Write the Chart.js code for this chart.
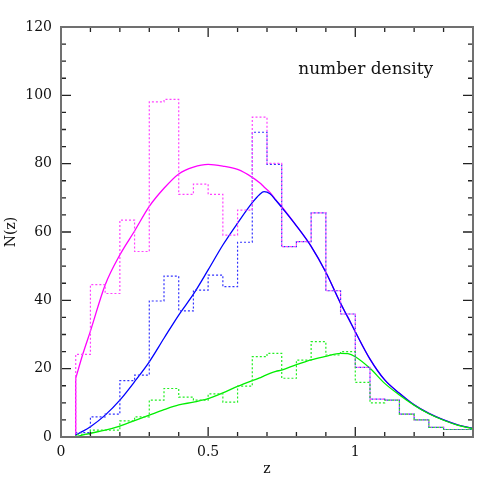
<!DOCTYPE html>
<html>
<head>
<meta charset="utf-8">
<script src="https://cdn.jsdelivr.net/npm/chart.js@4.4.1/dist/chart.umd.min.js"></script>
<style>
  body { margin: 0; background: #fff; }
  #wrap { width: 498px; height: 498px; }
</style>
</head>
<body>
<div id="wrap"><canvas id="nzChart" width="498" height="498"></canvas></div>
<script>
// histogram bin edges (z)
var binEdges = [0.05, 0.1, 0.15, 0.2, 0.25, 0.3, 0.35, 0.4, 0.45, 0.5, 0.55, 0.6, 0.65, 0.7,
    0.75, 0.8, 0.85, 0.9, 0.95, 1.0, 1.05, 1.1, 1.15, 1.2, 1.25, 1.3, 1.35, 1.4];

// dotted histograms, one value per bin
var histTotal = [24.2, 44.6, 42.0, 63.5, 54.3, 98.1, 98.8, 71.0, 74.0, 71.0, 59.1, 66.4, 93.6, 80.1,
    55.7, 57.2, 65.6, 42.8, 36.0, 20.4, 11.1, 10.8, 6.7, 5.0, 2.8, 2.2, 2.2];
var histBlue = [1.3, 5.9, 6.7, 16.5, 18.1, 39.8, 47.1, 36.9, 43.0, 47.4, 44.0, 57.0, 89.2, 79.8,
    55.7, 57.2, 65.6, 42.8, 36.0, 20.4, 11.1, 10.8, 6.7, 5.0, 2.8, 2.2, 2.2];
var histGreen = [0.8, 2.0, 2.0, 4.7, 5.9, 10.8, 14.2, 11.7, 10.8, 12.6, 10.2, 14.9, 23.5, 24.5,
    17.2, 22.5, 27.9, 24.0, 25.0, 16.0, 10.0, 10.8, 6.7, 5.0, 2.8, 2.2, 2.2];

// smooth model curves
var curveZ = [0.05, 0.075, 0.1, 0.15, 0.2, 0.25, 0.3, 0.35, 0.4, 0.45, 0.5, 0.55, 0.6, 0.65, 0.675,
    0.69, 0.71, 0.73, 0.75, 0.8, 0.85, 0.9, 0.95, 0.975, 1.0, 1.05, 1.1, 1.15, 1.2, 1.25, 1.3, 1.35, 1.4];
var curveTotal = [17.2, 24.5, 31.0, 44.5, 53.3, 60.3, 67.5, 72.8, 77.0, 79.0, 79.8, 79.3, 78.3, 76.0, 74.4,
    73.2, 71.6, 69.4, 67.4, 61.8, 55.8, 48.2, 39.1, 35.0, 30.8, 22.8, 16.7, 12.8, 9.4, 6.9, 5.0, 3.5, 2.5];
var curveBlue = [0.6, 1.7, 3.0, 6.4, 10.8, 16.2, 22.0, 28.9, 35.7, 41.8, 48.9, 56.2, 62.6, 68.6, 71.0,
    71.8, 71.2, 69.3, 67.2, 61.8, 55.8, 48.2, 39.1, 35.0, 30.8, 22.8, 16.7, 12.8, 9.4, 6.9, 5.0, 3.5, 2.5];
var curveGreen = [0.1, 0.6, 1.1, 2.0, 3.2, 4.8, 6.4, 8.0, 9.4, 10.2, 11.2, 12.9, 14.8, 16.5, 17.3,
    17.9, 18.6, 19.2, 19.6, 21.2, 22.6, 23.6, 24.5, 24.4, 23.5, 20.1, 15.7, 12.3, 9.3, 6.8, 4.9, 3.4, 2.4];

var xTicks = [0, 0.5, 1];
var yTicks = [0, 20, 40, 60, 80, 100, 120];

var fontFace = "'DejaVu Serif', 'Liberation Serif', serif";

function histPoints(values) {
    var pts = [{x: binEdges[0], y: 0}];
    for (var i = 0; i < values.length; i++) {
        pts.push({x: binEdges[i], y: values[i]});
    }
    pts.push({x: binEdges[binEdges.length - 1], y: values[values.length - 1]});
    return pts;
}

function curvePoints(values) {
    var pts = [];
    for (var i = 0; i < values.length; i++) {
        pts.push({x: curveZ[i], y: values[i]});
    }
    return pts;
}

function histSet(values, color) {
    return {
        data: histPoints(values),
        showLine: true,
        stepped: 'before',
        borderColor: color,
        borderWidth: 1.2,
        borderDash: [2, 2],
        pointRadius: 0
    };
}

function curveSet(pts, color) {
    return {
        data: pts,
        showLine: true,
        borderColor: color,
        borderWidth: 1.3,
        pointRadius: 0,
        cubicInterpolationMode: 'monotone'
    };
}

// ticks drawn inward on all four sides, plus the frame and the text label
var framePlugin = {
    id: 'frame',
    afterDatasetsDraw: function (chart) {
        var ctx = chart.ctx;
        var a = chart.chartArea;
        var xs = chart.scales.x;
        var ys = chart.scales.y;
        var i, v, p, len;

        ctx.save();
        ctx.strokeStyle = '#222';
        ctx.lineWidth = 1.3;
        ctx.beginPath();
        for (i = 1; i <= 13; i++) {
            v = i / 10;
            p = xs.getPixelForValue(v);
            len = (i % 5 === 0) ? 10 : 5;
            ctx.moveTo(p, a.bottom); ctx.lineTo(p, a.bottom - len);
            ctx.moveTo(p, a.top); ctx.lineTo(p, a.top + len);
        }
        for (i = 1; i < 24; i++) {
            v = i * 5;
            p = ys.getPixelForValue(v);
            len = (i % 4 === 0) ? 10 : 5;
            ctx.moveTo(a.left, p); ctx.lineTo(a.left + len, p);
            ctx.moveTo(a.right, p); ctx.lineTo(a.right - len, p);
        }
        ctx.stroke();

        ctx.strokeStyle = '#707070';
        ctx.lineWidth = 2;
        ctx.strokeRect(a.left, a.top, a.right - a.left, a.bottom - a.top);

        ctx.fillStyle = '#111';
        ctx.font = "17px " + fontFace;
        ctx.textAlign = 'left';
        ctx.textBaseline = 'middle';
        ctx.fillText('number density', xs.getPixelForValue(0.806), ys.getPixelForValue(107.4));
        ctx.restore();
    }
};

var totalPts = curvePoints(curveTotal);

var ctx = document.getElementById("nzChart").getContext('2d');
var nzChart = new Chart(ctx, {
    type: 'scatter',
    data: {
        datasets: [
            histSet(histGreen, '#22ee22'),
            histSet(histTotal, '#ff44ff'),
            histSet(histBlue, '#3333ff'),
            curveSet(curvePoints(curveGreen), '#00ee00'),
            curveSet(curvePoints(curveBlue), '#0000ff'),
            curveSet(totalPts, '#ff00ff'),
            curveSet([{x: curveZ[0], y: 0}, totalPts[0]], '#ff00ff')
        ]
    },
    options: {
        responsive: false,
        animation: false,
        events: [],
        layout: {padding: {top: 27, right: 25, left: 0, bottom: 0}},
        plugins: {legend: {display: false}, tooltip: {enabled: false}},
        scales: {
            x: {
                type: 'linear',
                min: 0,
                max: 1.4,
                afterFit: function (s) { s.height = 61; },
                grid: {display: false, drawTicks: false},
                border: {display: false},
                afterBuildTicks: function (s) {
                    s.ticks = xTicks.map(function (v) { return {value: v}; });
                },
                ticks: {
                    color: '#111',
                    padding: 7,
                    maxRotation: 0,
                    font: {family: fontFace, size: 14},
                    callback: function (value) { return String(value); }
                },
                title: {
                    display: true,
                    text: 'z',
                    color: '#111',
                    padding: {top: 0, bottom: 20},
                    font: {family: fontFace, size: 14}
                }
            },
            y: {
                type: 'linear',
                min: 0,
                max: 120,
                afterFit: function (s) { s.width = 61; },
                grid: {display: false, drawTicks: false},
                border: {display: false},
                afterBuildTicks: function (s) {
                    s.ticks = yTicks.map(function (v) { return {value: v}; });
                },
                ticks: {
                    color: '#111',
                    padding: 9,
                    font: {family: fontFace, size: 14},
                    callback: function (value) { return String(value); }
                },
                title: {
                    display: true,
                    text: 'N(z)',
                    color: '#111',
                    padding: {top: 3, bottom: 0},
                    font: {family: fontFace, size: 14}
                }
            }
        }
    },
    plugins: [framePlugin]
});
</script>
</body>
</html>
